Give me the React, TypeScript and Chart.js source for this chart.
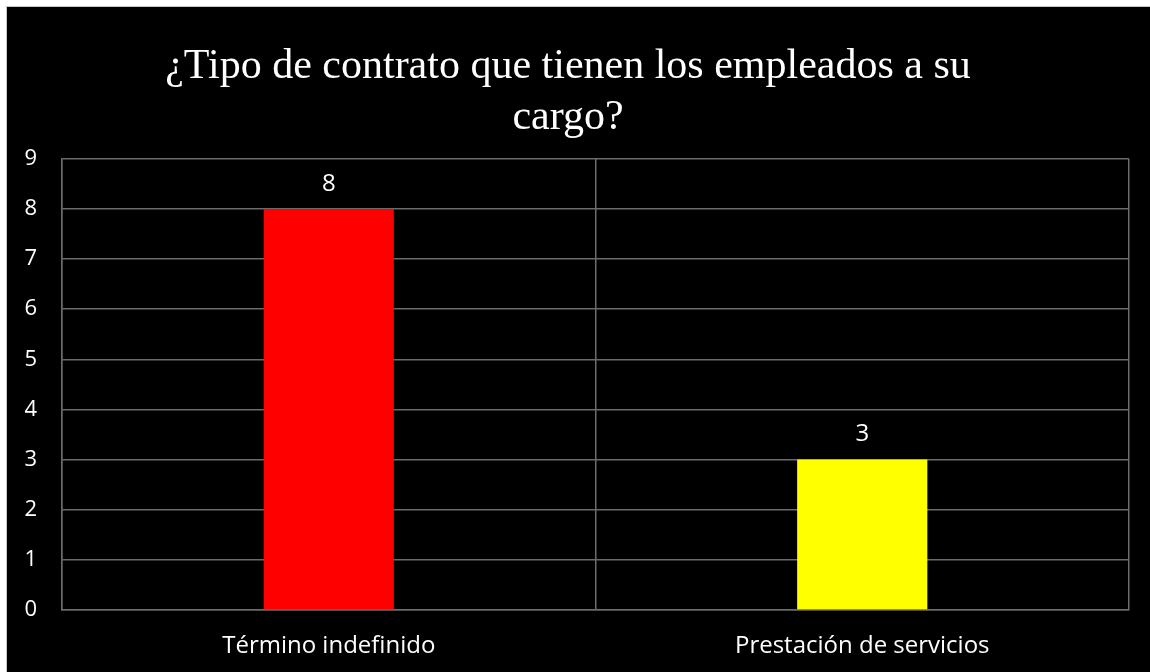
import React, { useEffect, useRef } from "react";
import { Chart, registerables } from "chart.js";

Chart.register(...registerables);

const titleLines = ["¿Tipo de contrato que tienen los empleados a su", "cargo?"];
const categories = ["Término indefinido", "Prestación de servicios"];
const values = [8, 3];
const barColors = ["#ff0000", "#ffff00"];
const yTicks = [0, 1, 2, 3, 4, 5, 6, 7, 8, 9];

const dataLabelPlugin = {
  id: "dataLabels",
  afterDatasetsDraw(chart: any) {
    const ctx = chart.ctx;
    const meta = chart.getDatasetMeta(0);
    ctx.save();
    ctx.fillStyle = "#ffffff";
    ctx.font = "24px 'Open Sans'";
    ctx.textAlign = "center";
    ctx.textBaseline = "middle";
    meta.data.forEach((el: any, i: number) => {
      ctx.fillText(String(values[i]), el.x, el.y - 25);
    });
    ctx.restore();
  },
};

export default function App() {
  const ref = useRef<HTMLCanvasElement>(null);
  useEffect(() => {
    if (!ref.current) return;
    const chart = new Chart(ref.current, {
      type: "bar",
      data: {
        labels: categories,
        datasets: [
          {
            data: values,
            backgroundColor: barColors,
            borderWidth: 0,
            categoryPercentage: 1,
            barPercentage: 0.244,
          },
        ],
      },
      options: {
        animation: false,
        responsive: false,
        maintainAspectRatio: false,
        layout: { padding: { left: 0, right: 21, top: 0, bottom: 0 } },
        plugins: {
          legend: { display: false },
          tooltip: { enabled: false },
          title: {
            display: true,
            text: titleLines,
            color: "#ffffff",
            font: { family: "'Liberation Serif', 'Times New Roman', serif", size: 42, weight: "normal", lineHeight: 1.2 },
            padding: { top: 35, bottom: 16 },
          },
        },
        scales: {
          x: {
            grid: { color: "#6b6b6b", lineWidth: 1.5, offset: true, drawTicks: false },
            border: { color: "#6b6b6b", width: 1.5 },
            ticks: { color: "#ffffff", font: { family: "'Open Sans'", size: 24 }, padding: 22 },
            afterFit(scale: any) {
              scale.height = 62;
            },
          },
          y: {
            min: 0,
            max: 9,
            grid: { color: "#6b6b6b", lineWidth: 1.5, drawTicks: false },
            border: { color: "#6b6b6b", width: 1.5 },
            ticks: {
              color: "#ffffff",
              font: { family: "'Open Sans'", size: 22 },
              stepSize: 1,
              padding: 25,
              callback: (v: any) => (yTicks.includes(v) ? String(v) : ""),
            },
            afterFit(scale: any) {
              scale.width = 55;
            },
          },
        },
      },
      plugins: [dataLabelPlugin],
    });
    return () => chart.destroy();
  }, []);
  return (
    <div
      style={{
        position: "absolute",
        left: 6,
        top: 6,
        width: 1144,
        height: 666,
        background: "#000000",
        borderLeft: "1px solid #c8c8c8",
        borderTop: "1px solid #c8c8c8",
        overflow: "hidden",
      }}
    >
      <canvas ref={ref} width={1143} height={665} style={{ display: "block" }} />
    </div>
  );
}
